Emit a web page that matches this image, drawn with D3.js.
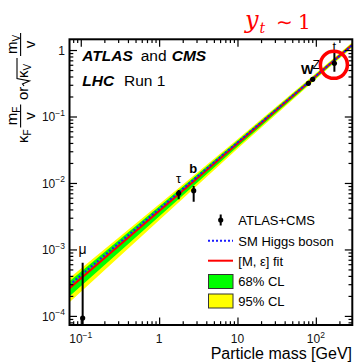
<!DOCTYPE html>
<html>
<head>
<meta charset="utf-8">
<script src="https://cdn.jsdelivr.net/npm/d3@7"></script>
<style>
  body { margin: 0; background: #fff; }
  svg { display: block; font-family: "Liberation Sans", Arial, Helvetica, sans-serif; }
  text { white-space: pre; }
</style>
</head>
<body>
<svg id="chart" width="354" height="362"></svg>
<script>
// measured couplings per particle
const particles = ['μ', 'τ', 'b', 'W', 'Z', 't']
const massGeV = [0.1057, 1.777, 2.76, 80.4, 91.19, 172.5]
const coupling = [9.3e-5, 7.0e-3, 7.66e-3, 0.316, 0.363, 0.63]
const couplingLo = [4e-5, 5.7e-3, 5.2e-3, 0.293, 0.338, 0.47]
const couplingHi = [6.3e-4, 7.85e-3, 9.0e-3, 0.343, 0.39, 0.90]

// SM expectation and [M, eps] fit, end points
const lineMass = [0.0718, 292]
const smValue = [2.92e-4, 1.187]
const fitValue = [2.61e-4, 1.197]

// confidence bands
const bandMass = [0.0718, 1, 10, 100, 292]
const band95Lo = [1.61e-4, 2.76e-3, 0.0328, 0.364, 1.096]
const band95Hi = [3.73e-4, 4.80e-3, 0.0456, 0.448, 1.306]
const band68Lo = [1.98e-4, 3.12e-3, 0.0352, 0.377, 1.127]
const band68Hi = [3.33e-4, 4.41e-3, 0.0433, 0.432, 1.27]

// axis ticks
const xTicks = [0.1, 1, 10, 100]
const xTickBase = ['10', '1', '10', '10']
const xTickExp = ['−1', '', '', '2']
const yTicks = [1e-4, 1e-3, 1e-2, 1e-1, 1]
const yTickBase = ['10', '10', '10', '10', '1']
const yTickExp = ['−4', '−3', '−2', '−1', '']

const legendLabels = ['ATLAS+CMS', 'SM Higgs boson', '[M, ε] fit', '68% CL', '95% CL']

const margin = {top: 39.3, right: 1.7, bottom: 37, left: 69.5}
const width = 354 - margin.left - margin.right
const height = 362 - margin.top - margin.bottom

const svg = d3.select('#chart')

const x = d3.scaleLog()
    .domain([0.0718, 292])
    .range([margin.left, margin.left + width])

const y = d3.scaleLog()
    .domain([7.3e-5, 1.45])
    .range([margin.top + height, margin.top])

svg.append('clipPath').attr('id', 'plotclip')
    .append('rect')
    .attr('x', margin.left).attr('y', margin.top)
    .attr('width', width).attr('height', height)

const plot = svg.append('g').attr('clip-path', 'url(#plotclip)')

// bands
const band = (lo, hi) => bandMass.map((m, i) => ({m: m, lo: lo[i], hi: hi[i]}))
const area = d3.area()
    .x(d => x(d.m))
    .y0(d => y(d.lo))
    .y1(d => y(d.hi))

plot.append('path')
    .datum(band(band95Lo, band95Hi))
    .attr('fill', '#ffff00')
    .attr('d', area)

plot.append('path')
    .datum(band(band68Lo, band68Hi))
    .attr('fill', '#00ff00')
    .attr('d', area)

const line = d3.line()
    .x(d => x(d.m))
    .y(d => y(d.v))

plot.append('path')
    .datum(lineMass.map((m, i) => ({m: m, v: fitValue[i]})))
    .attr('fill', 'none')
    .attr('stroke', '#ff0000')
    .attr('stroke-width', 2)
    .attr('d', line)

plot.append('path')
    .datum(lineMass.map((m, i) => ({m: m, v: smValue[i]})))
    .attr('fill', 'none')
    .attr('stroke', '#1a1aff')
    .attr('stroke-width', 2)
    .attr('stroke-dasharray', '2,2')
    .attr('d', line)

// data points with error bars
const pts = particles.map((p, i) => ({p: p, m: massGeV[i], v: coupling[i], lo: couplingLo[i], hi: couplingHi[i]}))

plot.selectAll('.err')
    .data(pts)
    .enter().append('line')
    .attr('x1', d => x(d.m)).attr('x2', d => x(d.m))
    .attr('y1', d => y(d.lo)).attr('y2', d => y(d.hi))
    .attr('stroke', 'black')
    .attr('stroke-width', 2)

plot.selectAll('.pt')
    .data(pts)
    .enter().append('circle')
    .attr('cx', d => x(d.m))
    .attr('cy', d => y(d.v))
    .attr('r', 2.6)
    .attr('fill', 'black')

// particle labels
const lab = svg.append('g').attr('fill', 'black')
const labelStyle = {
    'μ': {dx: 0, dy: -8.5, size: 14, weight: 'normal', anchor: 'middle'},
    'τ': {dx: 0, dy: -7, size: 13, weight: 'normal', anchor: 'middle'},
    'b': {dx: -0.5, dy: -13.5, size: 13, weight: 'bold', anchor: 'middle'},
    'W': {dx: -1, dy: -7, size: 13.5, weight: 'bold', anchor: 'middle'},
    'Z': {dx: 3.5, dy: -8, size: 12.5, weight: 'normal', anchor: 'middle'},
    't': {dx: 0, dy: -2.5, size: 13, weight: 'normal', anchor: 'middle'}
}
pts.forEach(d => {
    const s = labelStyle[d.p]
    lab.append('text')
        .attr('x', x(d.m) + s.dx)
        .attr('y', y(d.hi) + s.dy)
        .attr('text-anchor', s.anchor)
        .attr('font-size', s.size)
        .attr('font-weight', s.weight)
        .text(d.p)
})

// axes (ticks inward on all four sides)
const minor = (lo, hi) => {
    const out = []
    for (let e = lo; e <= hi; e++) {
        for (let k = 2; k <= 9; k++) out.push(k * Math.pow(10, e))
    }
    return out
}
const xMinor = minor(-2, 2).filter(v => v > x.domain()[0] && v < x.domain()[1])
const yMinor = minor(-5, 0).filter(v => v > y.domain()[0] && v < y.domain()[1])

const addAxis = (axisFn, scale, transform, values, size) => {
    const g = svg.append('g')
        .attr('transform', transform)
        .call(axisFn(scale).tickValues(values).tickSize(size).tickFormat(''))
    g.select('.domain').remove()
    g.selectAll('line').attr('stroke', 'black').attr('stroke-width', 1.2)
}
const bottomY = margin.top + height
const rightX = margin.left + width
addAxis(d3.axisBottom, x, `translate(0,${bottomY})`, xTicks, -7.5)
addAxis(d3.axisBottom, x, `translate(0,${bottomY})`, xMinor, -3.8)
addAxis(d3.axisTop, x, `translate(0,${margin.top})`, xTicks, -7.5)
addAxis(d3.axisTop, x, `translate(0,${margin.top})`, xMinor, -3.8)
addAxis(d3.axisLeft, y, `translate(${margin.left},0)`, yTicks, -7.5)
addAxis(d3.axisLeft, y, `translate(${margin.left},0)`, yMinor, -3.8)
addAxis(d3.axisRight, y, `translate(${rightX},0)`, yTicks, -7.5)
addAxis(d3.axisRight, y, `translate(${rightX},0)`, yMinor, -3.8)

// frame
svg.append('rect')
    .attr('x', margin.left).attr('y', margin.top)
    .attr('width', width).attr('height', height)
    .attr('fill', 'none')
    .attr('stroke', 'black')
    .attr('stroke-width', 2)

// tick labels
xTicks.forEach((t, i) => {
    const txt = svg.append('text')
        .attr('x', x(t))
        .attr('y', 343.3)
        .attr('text-anchor', 'middle')
        .attr('font-size', 12)
        .attr('fill', '#111')
    txt.append('tspan').text(xTickBase[i])
    if (xTickExp[i]) txt.append('tspan').attr('font-size', 8.5).attr('dy', -5.5).text(xTickExp[i])
})
yTicks.forEach((t, i) => {
    const txt = svg.append('text')
        .attr('x', 65)
        .attr('y', y(t) + 4.6)
        .attr('text-anchor', 'end')
        .attr('font-size', 12)
        .attr('fill', '#111')
    txt.append('tspan').text(yTickBase[i])
    if (yTickExp[i]) txt.append('tspan').attr('font-size', 8.5).attr('dy', -5.5).text(yTickExp[i])
})

// x axis title
svg.append('text')
    .attr('x', 352)
    .attr('y', 359)
    .attr('text-anchor', 'end')
    .attr('font-size', 16)
    .text('Particle mass [GeV]')

// y axis title: kF mF/v  or  sqrt(kV) mV/v
const yl = svg.append('g')
    .attr('transform', 'translate(0,147) rotate(-90)')
    .attr('font-size', 15)
const symbol = (g, lx, base, main, sub, anchor) => {
    const t = g.append('text').attr('x', lx).attr('y', base).attr('text-anchor', anchor || 'start')
    t.append('tspan').text(main)
    t.append('tspan').attr('font-size', 10).attr('dy', 3).text(sub)
}
const frac = (g, cx, w, sub) => {
    symbol(g, cx, 16.7, 'm', sub, 'middle')
    g.append('line')
        .attr('x1', cx - w / 2).attr('x2', cx + w / 2)
        .attr('y1', 20.6).attr('y2', 20.6)
        .attr('stroke', 'black').attr('stroke-width', 1.1)
    g.append('text').attr('x', cx).attr('y', 35).attr('text-anchor', 'middle').text('v')
}
symbol(yl, 4, 28.3, 'κ', 'F')
frac(yl, 31, 23, 'F')
yl.append('text').attr('x', 47).attr('y', 28.3).text('or')
yl.append('path')
    .attr('d', 'M61,24 L63,22.5 L66,29.5 L68.5,17 L89,17')
    .attr('fill', 'none')
    .attr('stroke', 'black')
    .attr('stroke-width', 1.1)
symbol(yl, 69, 28.3, 'κ', 'V')
frac(yl, 102.5, 23, 'V')

// experiment label
const title = svg.append('g').attr('font-size', 15.5)
title.append('text').attr('x', 82.3).attr('y', 60.7)
    .attr('font-weight', 'bold').attr('font-style', 'italic').text('ATLAS')
title.append('text').attr('x', 140.7).attr('y', 60.7).text('and')
title.append('text').attr('x', 171.7).attr('y', 60.7)
    .attr('font-weight', 'bold').attr('font-style', 'italic').text('CMS')
title.append('text').attr('x', 82.3).attr('y', 85.7)
    .attr('font-weight', 'bold').attr('font-style', 'italic').text('LHC')
title.append('text').attr('x', 124).attr('y', 85.7).text('Run 1')

// legend
const leg = svg.append('g').attr('font-size', 13)
const rowY = [220, 240.7, 260.7, 281.5, 301]
legendLabels.forEach((l, i) => {
    leg.append('text').attr('x', 238.3).attr('y', rowY[i] + 4.8).text(l)
})
leg.append('line')
    .attr('x1', 220.7).attr('x2', 220.7)
    .attr('y1', rowY[0] - 5.5).attr('y2', rowY[0] + 5.5)
    .attr('stroke', 'black').attr('stroke-width', 2)
leg.append('circle').attr('cx', 220.7).attr('cy', rowY[0]).attr('r', 2.6)
leg.append('line')
    .attr('x1', 208).attr('x2', 233).attr('y1', rowY[1]).attr('y2', rowY[1])
    .attr('stroke', '#1a1aff').attr('stroke-width', 2).attr('stroke-dasharray', '2,2')
leg.append('line')
    .attr('x1', 208).attr('x2', 233).attr('y1', rowY[2]).attr('y2', rowY[2])
    .attr('stroke', '#ff0000').attr('stroke-width', 2)
;[['#00ff00', rowY[3]], ['#ffff00', rowY[4]]].forEach(b => {
    leg.append('rect')
        .attr('x', 208.5).attr('y', b[1] - 7)
        .attr('width', 24.5).attr('height', 14)
        .attr('fill', b[0])
        .attr('stroke', '#333').attr('stroke-width', 1)
})

// red annotation: top Yukawa
const ann = svg.append('g').attr('fill', '#ff0000')
ann.append('text').attr('x', 245).attr('y', 28)
    .attr('font-family', '"DejaVu Serif", serif').attr('font-style', 'italic')
    .attr('font-size', 24).text('y')
ann.append('text').attr('x', 259.5).attr('y', 33)
    .attr('font-family', '"DejaVu Serif", serif').attr('font-style', 'italic')
    .attr('font-size', 14).text('t')
ann.append('text').attr('x', 276).attr('y', 28.5)
    .attr('font-family', '"DejaVu Sans", sans-serif')
    .attr('font-size', 20).text('∼')
ann.append('text').attr('x', 298).attr('y', 28.5)
    .attr('font-family', '"DejaVu Serif", serif')
    .attr('font-size', 20).text('1')

const topQuark = pts.find(d => d.p === 't')
svg.append('circle')
    .attr('cx', x(topQuark.m) - 0.5)
    .attr('cy', y(topQuark.v) + 1.5)
    .attr('r', 13.5)
    .attr('fill', 'none')
    .attr('stroke', '#ff0000')
    .attr('stroke-width', 3.5)
</script>
</body>
</html>
